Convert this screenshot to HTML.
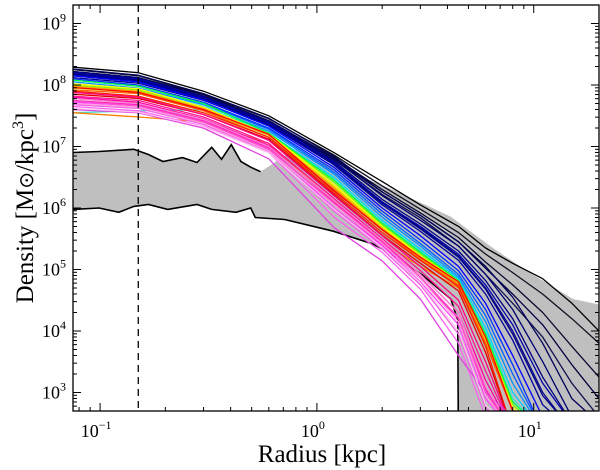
<!DOCTYPE html>
<html><head><meta charset="utf-8">
<style>
body{margin:0;background:#fff;}
svg{display:block;font-family:"Liberation Serif",serif;}
</style></head>
<body>
<svg id="chart" width="600" height="470" viewBox="0 0 600 470" xmlns="http://www.w3.org/2000/svg">
<defs><clipPath id="plotclip"><rect x="73" y="5" width="526" height="406"/></clipPath></defs>
<rect x="0" y="0" width="600" height="470" fill="#fff"/>
<g id="plot" clip-path="url(#plotclip)"></g>
<g id="axes"></g>
<text x="322" y="462" font-size="25" text-anchor="middle">Radius [kpc]</text>
<text transform="translate(33,208) rotate(-90)" font-size="25" text-anchor="middle">Density [M<tspan font-family="DejaVu Sans" font-size="20">⊙</tspan>/kpc<tspan font-size="16" dy="-10">3</tspan><tspan dy="10">]</tspan></text>
</svg>
<script>
// ---- data ----
const radii = [0.075,0.15,0.3,0.6,1.2,2,3,4.5,6,8,11,15,20];
const bandUpperR = [0.075,0.099,0.143,0.167,0.195,0.24,0.28,0.327,0.363,0.403,0.446,0.495,0.55,0.79,2.23,4.15,6.3,9.5,15.2,20];
const bandUpperD = [8.0e6,8.3e6,9.0e6,7.4e6,5.7e6,6.6e6,5.5e6,9.7e6,6.2e6,1.07e7,5.7e6,4.6e6,3.9e6,9e6,2e6,7.2e5,2.4e5,9e4,3.3e4,2.7e4];
const bandLowerR = [0.075,0.099,0.122,0.143,0.167,0.205,0.28,0.327,0.424,0.495,0.52,0.71,1.19,1.81,2.23,3.04,4.15,4.46,4.5];
const bandLowerD = [9.5e5,1.0e6,8.5e5,1.06e6,1.14e6,9.5e5,1.14e6,9.5e5,8.5e5,1.0e6,7.0e5,6.5e5,4.2e5,2.6e5,1.76e5,8.3e4,3.3e4,1.5e4,100];
const profileColors = ["#000000","#101020","#0a0a30","#000040","#101050","#00005a","#000070","#000080","#08088a","#000098","#0000a8","#00008c","#0000ff","#0030ff","#0060ff","#0090ff","#00d0ff","#40e0d0","#00ff40","#80ff00","#ffff00","#e0e000","#ffa000","#ff8000","#ff6000","#ff0000","#ff2000","#e00000","#ff0080","#ff1493","#ff00a0","#ff20c0","#ff40ff","#f060e0","#ff60f0","#e040e0","#ffa0e0","#ffc0f0","#ff80d0","#ff50c8"];
const profileLogD = [
[8.29,8.20,7.90,7.50,6.90,6.43,6.05,5.70,5.35,5.10,4.85,4.45,4.00],
[8.25,8.15,7.85,7.45,6.86,6.36,5.98,5.60,5.25,4.95,4.60,4.20,3.80],
[8.22,8.12,7.84,7.42,6.82,6.30,5.92,5.52,5.12,4.75,4.30,3.75,3.25],
[8.20,8.10,7.80,7.40,6.80,6.26,5.88,5.45,5.02,4.60,4.10,3.45,2.90],
[8.18,8.08,7.78,7.38,6.78,6.22,5.84,5.38,4.92,4.45,3.90,3.15,2.60],
[8.26,8.16,7.86,7.46,6.84,6.26,5.88,5.45,5.05,4.55,3.80,2.90,2.50],
[8.22,8.12,7.82,7.42,6.80,6.20,5.80,5.38,4.92,4.35,3.50,2.60],
[8.18,8.09,7.80,7.40,6.76,6.14,5.74,5.30,4.82,4.20,3.25,2.50],
[8.15,8.06,7.78,7.38,6.73,6.10,5.68,5.22,4.70,4.00,3.00],
[8.12,8.03,7.75,7.35,6.70,6.05,5.62,5.15,4.60,3.85,2.80],
[8.20,8.10,7.80,7.38,6.74,6.10,5.70,5.25,4.75,4.10,3.15,2.50],
[8.17,8.07,7.78,7.36,6.72,6.08,5.66,5.20,4.68,3.95,2.95,2.40],
[8.15,8.05,7.76,7.33,6.66,6.00,5.55,5.05,4.45,3.60,2.60],
[8.10,8.00,7.72,7.30,6.62,5.95,5.48,4.98,4.35,3.45],
[8.08,7.98,7.70,7.28,6.58,5.90,5.42,4.92,4.25,3.30],
[8.05,7.95,7.68,7.25,6.55,5.85,5.38,4.88,4.15,3.15],
[8.02,7.93,7.65,7.22,6.50,5.80,5.33,4.85,4.05,3.00],
[7.55,7.58,7.60,7.20,6.48,5.78,5.30,4.82,4.00,2.90],
[8.08,7.98,7.70,7.22,6.45,5.75,5.28,4.82,3.95,2.85],
[8.00,7.92,7.62,7.20,6.42,5.72,5.25,4.80,3.90,2.80],
[8.02,7.94,7.64,7.20,6.38,5.70,5.22,4.80,3.88,2.75],
[7.95,7.88,7.60,7.18,6.35,5.68,5.20,4.78,3.85,2.70],
[7.98,7.90,7.62,7.18,6.33,5.66,5.18,4.76,3.82,2.70],
[7.55,7.48,7.40,7.05,6.10,5.45,5.05,4.70,3.80,2.70],
[7.92,7.86,7.58,7.15,6.30,5.64,5.16,4.75,3.80,2.70],
[7.96,7.88,7.60,7.20,6.28,5.65,5.20,4.80,3.90,2.70],
[7.90,7.82,7.55,7.15,6.25,5.60,5.15,4.72,3.75],
[7.85,7.78,7.52,7.12,6.22,5.56,5.10,4.65,3.65],
[7.88,7.80,7.52,7.10,6.20,5.55,5.05,4.50,3.50],
[7.82,7.75,7.48,7.05,6.15,5.50,4.98,4.40,3.35],
[7.80,7.72,7.45,7.02,6.10,5.45,4.92,4.30,3.20],
[7.75,7.68,7.42,6.98,6.05,5.40,4.85,4.20,3.05],
[7.72,7.66,7.40,6.95,6.00,5.38,4.80,4.10,2.90],
[7.68,7.62,7.36,6.92,5.95,5.33,4.75,3.95,2.75],
[7.65,7.58,7.33,6.90,5.85,5.28,4.68,3.80,2.60],
[7.60,7.55,7.30,6.80,5.68,5.14,4.52,3.60,3.00,2.60],
[7.70,7.64,7.38,6.93,6.05,5.42,4.85,4.15,2.95],
[7.62,7.56,7.32,6.90,5.98,5.36,4.78,4.00,2.80],
[7.78,7.70,7.44,7.00,6.12,5.48,4.92,4.30,3.10],
[7.74,7.66,7.40,6.96,6.08,5.44,4.88,4.22,3.00]
];
const xTickVals = [0.1,1,10];
const xTickLabels = ["-1","0","1"];
const yTickExps = [3,4,5,6,7,8,9];
const dashedR = 0.15;

// ---- scales ----
const X0=73, X1=599, Y0=5, Y1=411;
const xMin=Math.log10(0.075), xMax=Math.log10(20);
const yMin=Math.log10(500), yMax=Math.log10(2e9);
function xs(r){return X0+(Math.log10(r)-xMin)/(xMax-xMin)*(X1-X0);}
function ysLog(l){return Y1-(l-yMin)/(yMax-yMin)*(Y1-Y0);}
function ys(d){return ysLog(Math.log10(d));}

const NS="http://www.w3.org/2000/svg";
const plot=document.getElementById('plot');
const axes=document.getElementById('axes');
function mk(tag,attrs,parent){const e=document.createElementNS(NS,tag);for(const k in attrs)e.setAttribute(k,attrs[k]);parent.appendChild(e);return e;}

// gray band
let pts=[];
for(let i=0;i<bandUpperR.length;i++)pts.push(xs(bandUpperR[i]).toFixed(1)+','+ys(bandUpperD[i]).toFixed(1));
pts.push(xs(20).toFixed(1)+','+(Y1+5));
for(let i=bandLowerR.length-1;i>=0;i--)pts.push(xs(bandLowerR[i]).toFixed(1)+','+ys(bandLowerD[i]).toFixed(1));
const band=mk('polygon',{points:pts.join(' '),fill:'#bfbfbf',stroke:'none'},plot);


let lp=[];
for(let i=0;i<bandLowerR.length;i++)lp.push(xs(bandLowerR[i]).toFixed(1)+','+ys(bandLowerD[i]).toFixed(1));
const lowerLine=mk('polyline',{points:lp.join(' '),fill:'none',stroke:'#000','stroke-width':1.6},plot);


let up=[];
for(let i=0;i<13;i++)up.push(xs(bandUpperR[i]).toFixed(1)+','+ys(bandUpperD[i]).toFixed(1));
const upperLine=mk('polyline',{points:up.join(' '),fill:'none',stroke:'#000','stroke-width':1.6},plot);



// profiles
for(let j=0;j<profileLogD.length;j++){
  const p=[];
  for(let i=0;i<profileLogD[j].length;i++)p.push(xs(radii[i]).toFixed(1)+','+ysLog(profileLogD[j][i]).toFixed(1));
  const last=profileLogD[j].length-1;
  if(profileLogD[j][last]>yMin && last<radii.length-1){p.push(xs(radii[last+1]).toFixed(1)+','+(Y1+20));}
  const pl=mk('polyline',{points:p.join(' '),fill:'none',stroke:profileColors[j],'stroke-width':1.3,'stroke-linejoin':'round'},plot);
  
  
}

// dashed line
const dl=mk('line',{x1:xs(dashedR),x2:xs(dashedR),y1:Y0,y2:Y1,stroke:'#000','stroke-width':1.3,'stroke-dasharray':'7,5'},plot);



// frame
const fr=mk('rect',{x:X0,y:Y0,width:X1-X0,height:Y1-Y0,fill:'none',stroke:'#000','stroke-width':1.3},axes);



// x ticks
for(let d=-2;d<=1;d++){for(let m=1;m<10;m++){const r=m*Math.pow(10,d);if(r<0.075||r>20)continue;const x=xs(r);const L=m===1?8:4;
  mk('line',{x1:x,x2:x,y1:Y1,y2:Y1-L,stroke:'#000','stroke-width':1},axes);
  mk('line',{x1:x,x2:x,y1:Y0,y2:Y0+L,stroke:'#000','stroke-width':1},axes);}}
for(let i=0;i<xTickVals.length;i++){
  const t=mk('text',{x:xs(xTickVals[i])-4,y:437,'font-size':18,'text-anchor':'middle'},axes);
  
  
  t.innerHTML='10<tspan font-size="12" dy="-8">'+(xTickLabels[i]==="-1"?"−1":xTickLabels[i])+'</tspan>';
}
// y ticks
for(let e=2;e<=9;e++){for(let m=1;m<10;m++){const v=m*Math.pow(10,e);if(v<500||v>2e9)continue;const y=ys(v);const L=m===1?8:4;
  mk('line',{x1:X0,x2:X0+L,y1:y,y2:y,stroke:'#000','stroke-width':1},axes);
  mk('line',{x1:X1,x2:X1-L,y1:y,y2:y,stroke:'#000','stroke-width':1},axes);}}
for(let i=0;i<yTickExps.length;i++){
  const t=mk('text',{x:42,y:ys(Math.pow(10,yTickExps[i]))+6,'font-size':18,'text-anchor':'start'},axes);
  
  
  t.innerHTML='10<tspan font-size="12" dy="-8">'+yTickExps[i]+'</tspan>';
}
</script>
</body></html>
